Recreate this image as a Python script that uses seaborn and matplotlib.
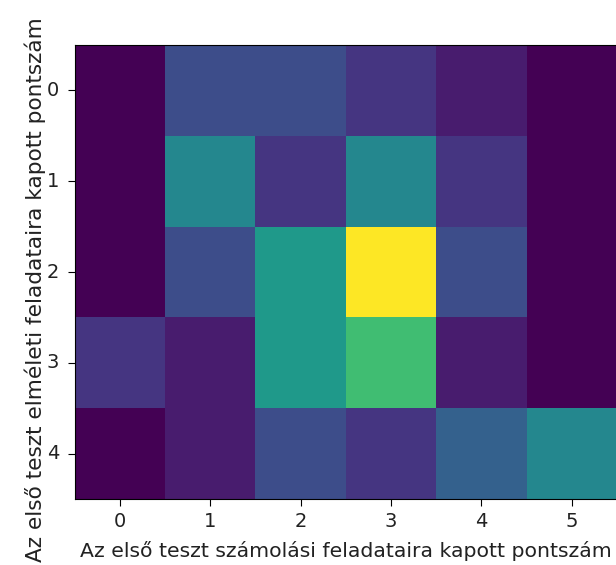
import numpy as np
import pandas as pd
import matplotlib
matplotlib.use("Agg")
import matplotlib.pyplot as plt
import seaborn as sns

# Data: counts (rows: theory score, cols: calculation score)
row_labels = [0, 1, 2, 3, 4]
col_labels = [0, 1, 2, 3, 4, 5]
row0 = [0, 3, 3, 2, 1, 0]
row1 = [0, 6, 2, 6, 2, 0]
row2 = [0, 3, 7, 13, 3, 0]
row3 = [2, 1, 7, 9, 1, 0]
row4 = [0, 1, 3, 2, 4, 6]

xlabel = "Az első teszt számolási feladataira kapott pontszám"
ylabel = "Az első teszt elméleti feladataira kapott pontszám"

df = pd.DataFrame([row0, row1, row2, row3, row4], index=row_labels, columns=col_labels)

fig = plt.figure(figsize=(6.16, 5.65), dpi=100)
ax = fig.add_axes([0.1211, 0.1168, 0.8805, 0.8035])
sns.heatmap(df, cmap="viridis", cbar=False, ax=ax)

for sp in ax.spines.values():
    sp.set_visible(True)
    sp.set_color("black")
    sp.set_linewidth(0.8)

ax.tick_params(axis="both", which="major", length=5, width=0.8, labelsize=14,
               color="black", labelcolor="#222222")
ax.tick_params(axis="x", pad=4.5)
ax.tick_params(axis="y", pad=6)
ax.set_xticklabels([str(c) for c in col_labels], rotation=0)
ax.set_yticklabels([str(r) for r in row_labels], rotation=0, va="center")
ax.set_xlabel(xlabel, fontsize=14.7, labelpad=7, color="#222222")
ax.set_ylabel(ylabel, fontsize=15.6, color="#222222")
ax.yaxis.set_label_coords(-0.052, 0.462)

fig.savefig("out.png", dpi=100)
